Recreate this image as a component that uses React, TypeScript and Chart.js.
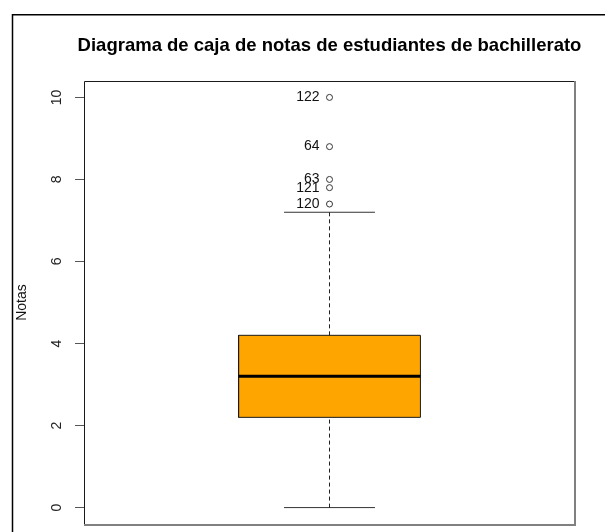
import React, { useEffect, useRef } from "react";
import { Chart, registerables } from "chart.js";

Chart.register(...registerables);

// ---- data ----
const chartTitle = "Diagrama de caja de notas de estudiantes de bachillerato";
const yAxisLabel = "Notas";
const yTickValues = [0, 2, 4, 6, 8, 10];
// lower whisker, Q1, median, Q3, upper whisker
const fiveNumbers = [0, 2.2, 3.2, 4.2, 7.2];
const outlierValues = [7.4, 7.8, 8.0, 8.8, 10];
const outlierIds = ["120", "121", "63", "64", "122"];

const FONT = "'Liberation Sans', Arial, Helvetica, sans-serif";

export default function App() {
  const ref = useRef<HTMLCanvasElement | null>(null);

  useEffect(() => {
    if (!ref.current) return;
    const [lo, q1, med, q3, hi] = fiveNumbers;
    const cx = 1;
    const bw = 0.2; // half box width
    const cw = 0.1; // half cap width
    Chart.defaults.font.family = FONT;

    const line = (pts: { x: number; y: number }[], extra: any = {}) => ({
      data: pts,
      showLine: true,
      pointRadius: 0,
      pointHoverRadius: 0,
      borderColor: "#1a1a1a",
      borderWidth: 1,
      fill: false,
      ...extra,
    });

    const decorPlugin = {
      id: "decor",
      afterDraw(chart: any) {
        const { ctx, chartArea } = chart;
        const xs = chart.scales.x;
        const ys = chart.scales.y;
        ctx.save();
        // outer frame
        ctx.strokeStyle = "#000";
        ctx.lineWidth = 1.5;
        ctx.beginPath();
        ctx.moveTo(12.5, 532);
        ctx.lineTo(12.5, 14.75);
        ctx.lineTo(605, 14.75);
        ctx.stroke();
        // plot box
        ctx.strokeStyle = "#1a1a1a";
        ctx.lineWidth = 1;
        ctx.beginPath();
        ctx.moveTo(chartArea.left + 0.5, chartArea.bottom + 1);
        ctx.lineTo(chartArea.left + 0.5, chartArea.top + 0.5);
        ctx.lineTo(chartArea.right, chartArea.top + 0.5);
        ctx.stroke();
        ctx.strokeStyle = "#808080";
        ctx.lineWidth = 2;
        ctx.beginPath();
        ctx.moveTo(chartArea.right, chartArea.top);
        ctx.lineTo(chartArea.right, chartArea.bottom + 1);
        ctx.lineTo(chartArea.left, chartArea.bottom + 1);
        ctx.stroke();
        // title (centred over the plot region)
        ctx.fillStyle = "#000";
        ctx.font = `bold 18.5px ${FONT}`;
        ctx.textAlign = "center";
        ctx.textBaseline = "middle";
        ctx.fillText(chartTitle, (chartArea.left + chartArea.right) / 2, 45.5);
        // outlier labels
        ctx.fillStyle = "#111";
        ctx.font = `14px ${FONT}`;
        ctx.textAlign = "right";
        ctx.textBaseline = "middle";
        outlierValues.forEach((v, i) => {
          const px = xs.getPixelForValue(cx) - 10;
          const py = ys.getPixelForValue(v);
          ctx.fillText(outlierIds[i], px, py);
        });
        ctx.restore();
      },
    };

    const chart = new Chart(ref.current, {
      type: "scatter",
      data: {
        datasets: [
          line(
            [
              { x: cx - bw, y: q1 },
              { x: cx + bw, y: q1 },
            ],
            { borderWidth: 0, order: 20 }
          ),
          line(
            [
              { x: cx - bw, y: q3 },
              { x: cx + bw, y: q3 },
            ],
            { borderWidth: 0, fill: "-1", backgroundColor: "#FFA500", order: 19 }
          ),
          line(
            [
              { x: cx - bw, y: q1 },
              { x: cx + bw, y: q1 },
              { x: cx + bw, y: q3 },
              { x: cx - bw, y: q3 },
              { x: cx - bw, y: q1 },
            ],
            { order: 5 }
          ),
          line(
            [
              { x: cx - bw, y: med },
              { x: cx + bw, y: med },
            ],
            { borderWidth: 3, borderColor: "#000", order: 1 }
          ),
          line(
            [
              { x: cx, y: lo },
              { x: cx, y: q1 },
            ],
            { borderDash: [4, 3], borderColor: "#222", order: 6 }
          ),
          line(
            [
              { x: cx, y: q3 },
              { x: cx, y: hi },
            ],
            { borderDash: [4, 3], borderColor: "#222", order: 6 }
          ),
          line(
            [
              { x: cx - cw, y: lo },
              { x: cx + cw, y: lo },
            ],
            { borderColor: "#333", order: 6 }
          ),
          line(
            [
              { x: cx - cw, y: hi },
              { x: cx + cw, y: hi },
            ],
            { borderColor: "#333", order: 6 }
          ),
          {
            data: outlierValues.map((v) => ({ x: cx, y: v })),
            showLine: false,
            pointRadius: 3,
            pointHoverRadius: 3,
            pointStyle: "circle",
            pointBorderColor: "#333",
            pointBackgroundColor: "rgba(255,255,255,0)",
            pointBorderWidth: 1,
            order: 0,
          },
        ] as any,
      },
      options: {
        animation: false,
        responsive: false,
        events: [],
        layout: { padding: { left: 0, top: 81, right: 30, bottom: 8 } },
        plugins: {
          legend: { display: false },
          tooltip: { enabled: false },
          title: { display: false },
          filler: { drawTime: "beforeDatasetsDraw" } as any,
        },
        scales: {
          x: { type: "linear", min: 0.46, max: 1.54, display: false },
          y: {
            type: "linear",
            min: -0.4,
            max: 10.4,
            afterBuildTicks: (s: any) => {
              s.ticks = yTickValues.map((v) => ({ value: v }));
            },
            afterFit: (s: any) => {
              s.width = 84;
              s.paddingTop = 0;
              s.paddingBottom = 0;
            },
            border: { display: false },
            grid: {
              drawOnChartArea: false,
              drawTicks: true,
              tickLength: 9,
              color: "#555",
              lineWidth: 1,
            },
            ticks: {
              minRotation: 90,
              maxRotation: 90,
              crossAlign: "center",
              padding: 10,
              color: "#222",
              font: { size: 14, family: FONT },
              callback: (v: any) => String(v),
            },
            title: {
              display: true,
              text: yAxisLabel,
              color: "#111",
              font: { size: 14, family: FONT },
              padding: { top: 14, bottom: 0 },
            },
          },
        },
      },
      plugins: [decorPlugin],
    });
    return () => chart.destroy();
  }, []);

  return (
    <div style={{ position: "fixed", left: 0, top: 0, width: 605, height: 532, background: "#fff" }}>
      <canvas ref={ref} width={605} height={532} style={{ display: "block" }} />
    </div>
  );
}
